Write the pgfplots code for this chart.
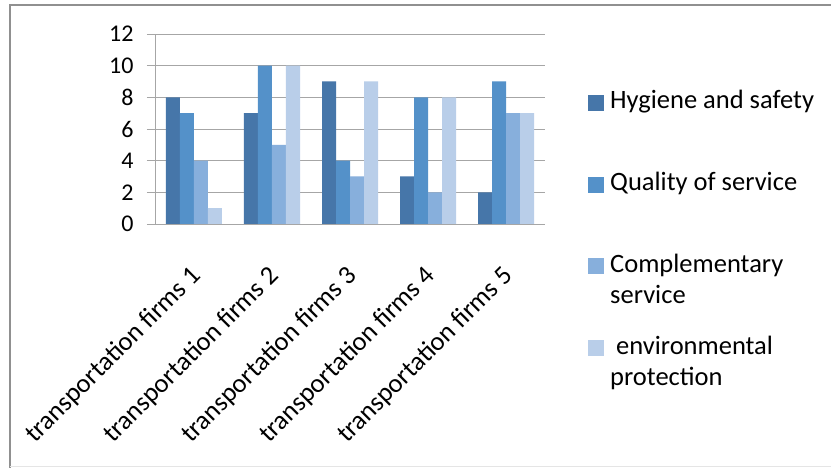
\documentclass[border=0pt]{standalone}
\usepackage{pgfplots}
\pgfplotsset{compat=1.18}
\usepackage{fontspec}
\setmainfont{Carlito}
\definecolor{c1}{HTML}{4676A9}
\definecolor{c2}{HTML}{5491C9}
\definecolor{c3}{HTML}{87AFDC}
\definecolor{c4}{HTML}{B9CEE9}
\definecolor{gridc}{HTML}{A6A6A6}
\definecolor{framec}{HTML}{909090}
\begin{document}
\begin{tikzpicture}
\path[use as bounding box] (0pt,0pt) rectangle (831pt,468pt);
\fill[white] (0pt,0pt) rectangle (831pt,468pt);
\begin{axis}[
  at={(155pt,244pt)}, anchor=south west,
  scale only axis, width=390pt, height=190pt,
  xmin=-0.5, xmax=4.5, ymin=0, ymax=12,
  ybar=0pt, bar width=14pt,
  axis x line=bottom, axis y line=left,
  axis line style={gridc, line width=0.8pt, -},
  ymajorgrids, grid style={gridc, line width=0.8pt},
  ytick={0,2,...,12},
  xtick={0,1,2,3,4},
  xticklabels={transportation firms 1,transportation firms 2,transportation firms 3,transportation firms 4,transportation firms 5},
  minor xtick={-0.5,0.5,1.5,2.5,3.5,4.5},
  tick align=outside,
  major tick length=8pt, minor tick length=8pt,
  xtick style={draw=none},
  minor x tick style={gridc, line width=0.8pt},
  ytick style={gridc, line width=0.8pt},
  /pgf/number format/assume math mode=true,
  yticklabel style={font=\fontsize{24}{29}\selectfont, xshift=-10pt},
  xticklabel style={font=\fontsize{26.5}{31}\selectfont, xshift=-5pt, yshift=-27pt, rotate=45, anchor=north east},
  legend style={at={(1.1103,0.716)}, anchor=north west, draw=none, fill=none,
    font=\fontsize{26.5}{31}\selectfont, inner sep=0pt,
    cells={align=left, anchor=west}, row sep=27pt,
    /tikz/every odd column/.append style={column sep=4pt}},
  legend cell align=left,
  legend image code/.code={\fill[#1] (0pt,5pt) rectangle (16pt,21pt);},
]
\addplot[fill=c1, draw=none] coordinates {(0,8) (1,7) (2,9) (3,3) (4,2)};
\addplot[fill=c2, draw=none] coordinates {(0,7) (1,10) (2,4) (3,8) (4,9)};
\addplot[fill=c3, draw=none] coordinates {(0,4) (1,5) (2,3) (3,2) (4,7)};
\addplot[fill=c4, draw=none] coordinates {(0,1) (1,10) (2,9) (3,8) (4,7)};
\legend{Hygiene and safety\\\mbox{}, Quality of service\\\mbox{}, Complementary\\service, {\ }environmental\\protection}
\end{axis}
\draw[framec, line width=2.5pt] (10pt,0pt) -- (10pt,463pt) -- (831pt,463pt);
\draw[black!10, line width=1pt] (10pt,1.5pt) -- (831pt,1.5pt);
\end{tikzpicture}
\end{document}
